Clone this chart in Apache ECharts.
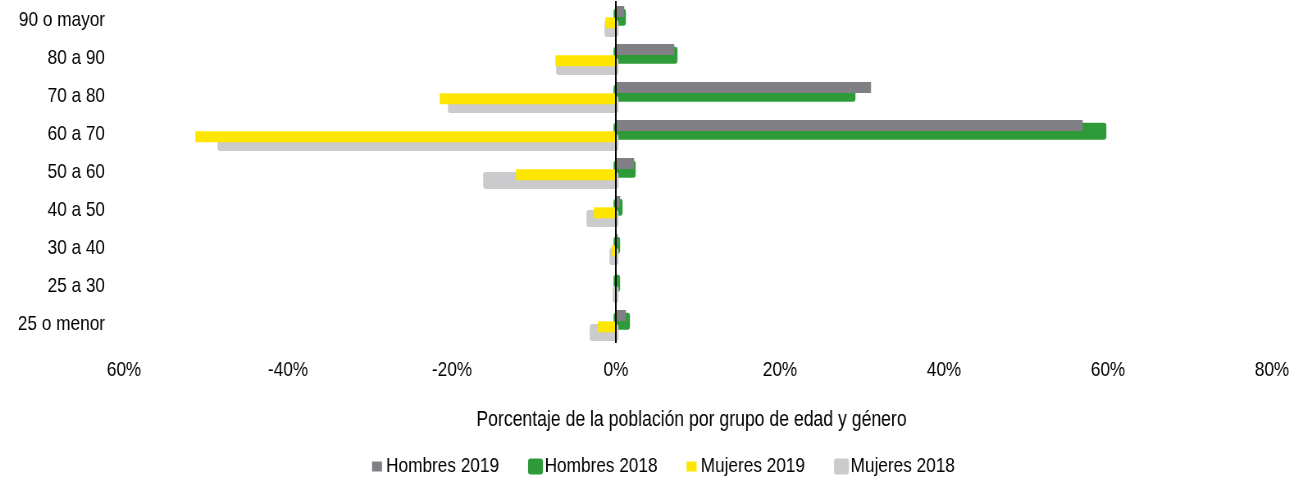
<!DOCTYPE html>
<html>
<head>
<meta charset="utf-8">
<script src="https://cdn.jsdelivr.net/npm/echarts@6/dist/echarts.min.js"></script>
<style>
  html, body { margin: 0; padding: 0; background: #ffffff; overflow: hidden; }
  #wrap { width: 1312px; height: 478px; overflow: hidden; }
  /* Chart is laid out wider and squeezed horizontally to get a narrow typeface look */
  #chart { height: 478px; transform-origin: 0 0; }
</style>
</head>
<body>
<div id="wrap"><div id="chart"></div></div>
<script>
// Age groups, top to bottom
const ageGroups = ['90 o mayor', '80 a 90', '70 a 80', '60 a 70', '50 a 60', '40 a 50', '30 a 40', '25 a 30', '25 o menor'];

// Share of population (%) per age group; women plotted as negative values
const hombres2019 = [1.0, 7.1, 31.1, 56.9, 2.2, 0.5, 0.2, 0.1, 1.2];
const hombres2018 = [0.9, 7.2, 28.9, 59.5, 2.1, 0.5, 0.2, 0.2, 1.4];
const mujeres2019 = [-1.3, -7.4, -21.5, -51.3, -12.2, -2.7, -0.5, -0.1, -2.2];
const mujeres2018 = [-1.1, -7.0, -20.2, -48.3, -15.9, -3.3, -0.5, -0.1, -2.9];

// Value axis ticks and their labels
const tickValues = [-60, -40, -20, 0, 20, 40, 60, 80];
const tickLabels = ['60%', '-40%', '-20%', '0%', '20%', '40%', '60%', '80%'];

const seriesNames = ['Hombres 2019', 'Hombres 2018', 'Mujeres 2019', 'Mujeres 2018'];
const seriesColors = ['#807f84', '#2e9a3a', '#ffe600', '#cbcbcd'];

// Horizontal squeeze factor and page width
const SX = 0.82;
const PAGE_W = 1312;
const W = PAGE_W / SX;
const px = v => v / SX; // horizontal screen pixels -> layout pixels

const FONT = '"Liberation Sans", Arial, sans-serif';
const FONT_SIZE = 21;

const BAR_H = 11;      // bar thickness
const BAR_STEP = 5.67; // vertical step between the overlapping bars of a group

const el = document.getElementById('chart');
el.style.width = W + 'px';
el.style.transform = 'scaleX(' + SX + ')';

function barSeries(idx, values, bordered, z) {
  const color = seriesColors[idx];
  const offset = (idx - 1.5) * BAR_STEP;
  return {
    name: seriesNames[idx],
    type: 'custom',
    z: z,
    silent: true,
    data: values.map((v, i) => [v, i]),
    encode: { x: 0, y: 1 },
    itemStyle: { color: color },
    renderItem: function (params, api) {
      const cat = api.value(1);
      const end = api.coord([api.value(0), cat]);
      const start = api.coord([0, cat]);
      const cy = start[1] + offset;
      const style = bordered
        ? { fill: color, stroke: color, lineWidth: 6, lineJoin: 'round' }
        : { fill: color };
      return {
        type: 'rect',
        shape: {
          x: Math.min(start[0], end[0]),
          y: cy - BAR_H / 2,
          width: Math.abs(end[0] - start[0]),
          height: BAR_H
        },
        style: style
      };
    }
  };
}

const series = [
  barSeries(0, hombres2019, false, 3),
  barSeries(1, hombres2018, true, 2),
  barSeries(2, mujeres2019, false, 3),
  barSeries(3, mujeres2018, true, 2)
];

// Zero line of the pyramid, drawn above the bars
series[0].markLine = {
  silent: true,
  symbol: 'none',
  z: 10,
  label: { show: false },
  lineStyle: { color: '#000000', width: 2, type: 'solid' },
  data: [{ xAxis: 0 }]
};

const chart = echarts.init(el, null, { renderer: 'canvas', width: W, height: 478 });

chart.setOption({
  animation: false,
  backgroundColor: '#ffffff',
  textStyle: { fontFamily: FONT },
  grid: { left: px(124), right: px(40), top: 1, height: 342 },
  legend: {
    top: 456,
    left: px(372),
    padding: 0,
    icon: 'rect',
    itemWidth: px(10),
    itemHeight: 10,
    itemGap: px(29),
    selectedMode: false,
    textStyle: { fontFamily: FONT, fontSize: FONT_SIZE, color: '#000000' },
    data: [
      { name: seriesNames[0], itemStyle: { color: seriesColors[0] } },
      { name: seriesNames[1], itemStyle: { color: seriesColors[1], borderColor: seriesColors[1], borderWidth: 6, borderJoin: 'round' } },
      { name: seriesNames[2], itemStyle: { color: seriesColors[2] } },
      { name: seriesNames[3], itemStyle: { color: seriesColors[3], borderColor: seriesColors[3], borderWidth: 6, borderJoin: 'round' } }
    ]
  },
  xAxis: {
    type: 'value',
    min: -60,
    max: 80,
    interval: 20,
    name: 'Porcentaje de la población por grupo de edad y género',
    nameLocation: 'middle',
    nameGap: 66,
    nameTextStyle: { fontFamily: FONT, fontSize: 21.5, color: '#000000', padding: [0, px(13), 0, 0] },
    axisLine: { show: false },
    axisTick: { show: false },
    splitLine: { show: false },
    axisLabel: {
      margin: 17,
      fontFamily: FONT,
      fontSize: FONT_SIZE,
      color: '#000000',
      formatter: function (v) {
        const i = tickValues.indexOf(v);
        return i >= 0 ? tickLabels[i] : '';
      }
    }
  },
  yAxis: {
    type: 'category',
    data: ageGroups,
    inverse: true,
    axisLine: { show: false },
    axisTick: { show: false },
    splitLine: { show: false },
    axisLabel: { margin: px(19), fontFamily: FONT, fontSize: FONT_SIZE, color: '#000000' }
  },
  series: series
});
</script>
</body>
</html>
